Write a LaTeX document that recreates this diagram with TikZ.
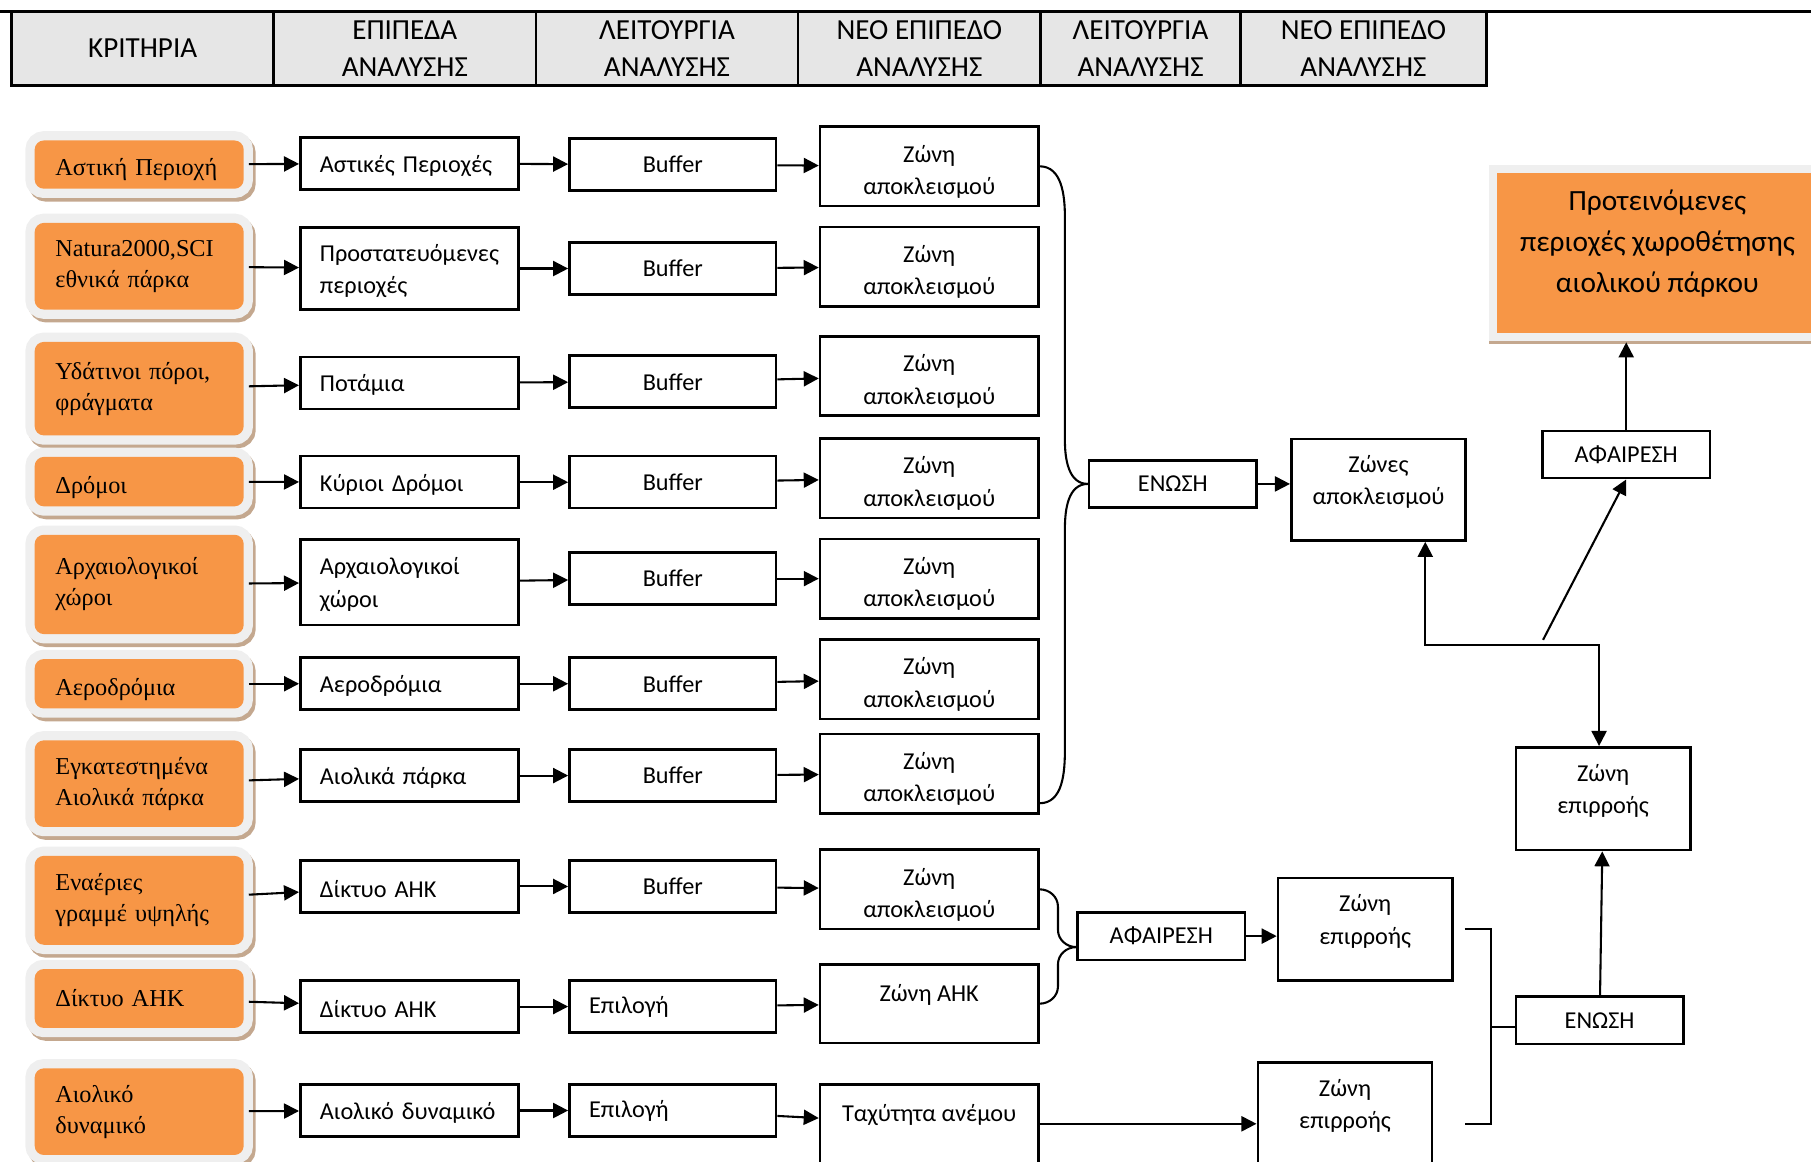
\documentclass[tikz,border=0pt]{standalone}
\usepackage{fontspec}
\setmainfont{Carlito}
\newfontfamily\critfont{Liberation Serif}
\usetikzlibrary{arrows.meta}
\definecolor{critorange}{HTML}{F79646}
\definecolor{glowgray}{HTML}{EFEFEF}
\definecolor{shadebrown}{HTML}{C4A88F}
\definecolor{hdrgray}{HTML}{E6E6E6}

\begin{document}
\begin{tikzpicture}[x=0.5pt,y=-0.5pt,
    >={Triangle[length=6.5pt,width=6.5pt]},
    sink/.style = {execute at begin node={\rule{0pt}{#1}}},
    lift/.style = {execute at end node={\rule[-#1]{0pt}{0pt}}},
    hdr/.style = {draw, line width=1.1pt, fill=hdrgray, minimum height=32pt, align=center, inner sep=0pt, font=\fontsize{12.6}{16}\selectfont},
    crit/.style = {fill=critorange, rounded corners=4pt, minimum width=90.5pt, text width=72.5pt, inner xsep=9pt, align=left, font=\critfont\fontsize{10.5}{13.5}\selectfont,
        preaction={draw=shadebrown, line width=8pt, transform canvas={xshift=1.2pt,yshift=-1.6pt}},
        preaction={draw=glowgray, line width=8pt}},
    lvl/.style = {draw, line width=1.1pt, minimum width=94.5pt, text width=77.5pt, inner xsep=8.5pt, align=left, minimum height=22.5pt, font=\fontsize{10.5}{14}\selectfont, sink=9.5pt},
    func/.style = {draw, line width=1.1pt, minimum width=89.5pt, minimum height=22.5pt, font=\fontsize{10.5}{14}\selectfont},
    funcl/.style = {func, text width=72.5pt, inner xsep=8.5pt, align=left},
    zone/.style = {draw, line width=1.1pt, minimum width=94.5pt, minimum height=34pt, align=center, font=\fontsize{10.5}{14}\selectfont, sink=26pt},
    oper/.style = {draw, line width=1.1pt, minimum width=72.5pt, minimum height=20.5pt, font=\fontsize{10.5}{14}\selectfont},
    res/.style = {draw, line width=1.1pt, minimum width=75.5pt, minimum height=44.5pt, align=center, font=\fontsize{10.5}{14}\selectfont, lift=8.5pt},
    final/.style = {fill=critorange, minimum width=139pt, minimum height=69pt, align=center, font=\fontsize{12.7}{17.75}\selectfont, lift=10pt,
        preaction={draw=shadebrown, line width=7pt, transform canvas={yshift=-1.5pt}},
        preaction={draw=glowgray, line width=7pt}},
    link/.style = {->, line width=0.9pt},
    feed/.style = {link, shorten <=2pt},
    brace/.style = {line width=0.9pt}]
    \useasboundingbox (0,0) rectangle (1568,1006);

    % header row
    \draw[line width=1.3pt] (0,10) -- (1568,10);
    \node[hdr, minimum width=113.5pt] (h1) at (123.5,42) {ΚΡΙΤΗΡΙΑ};
    \node[hdr, minimum width=113.5pt] (h2) at (350.5,42) {ΕΠΙΠΕΔΑ\\ΑΝΑΛΥΣΗΣ};
    \node[hdr, minimum width=113.5pt] (h3) at (577.5,42) {ΛΕΙΤΟΥΡΓΙΑ\\ΑΝΑΛΥΣΗΣ};
    \node[hdr, minimum width=105pt] (h4) at (796,42) {ΝΕΟ ΕΠΙΠΕΔΟ\\ΑΝΑΛΥΣΗΣ};
    \node[hdr, minimum width=86.5pt] (h5) at (987.5,42) {ΛΕΙΤΟΥΡΓΙΑ\\ΑΝΑΛΥΣΗΣ};
    \node[hdr, minimum width=106.5pt] (h6) at (1180.5,42) {ΝΕΟ ΕΠΙΠΕΔΟ\\ΑΝΑΛΥΣΗΣ};

    % criteria
    \node[crit, minimum height=19.5pt, sink=12pt] (c1) at (120.5,142.5) {Αστική Περιοχή};
    \node[crit, minimum height=37.5pt] (c2) at (120.5,230.5) {Natura2000,SCI\\εθνικά πάρκα};
    \node[crit, minimum height=40.5pt] (c3) at (120.5,336.5) {Υδάτινοι πόροι,\\φράγματα};
    \node[crit, minimum height=19pt, sink=12.5pt] (c4) at (120.5,417) {Δρόμοι};
    \node[crit, minimum height=43pt] (c5) at (120.5,506) {Αρχαιολογικοί\\χώροι};
    \node[crit, minimum height=19pt, sink=12.5pt] (c6) at (120.5,592) {Αεροδρόμια};
    \node[crit, minimum height=37.5pt] (c7) at (120.5,678.5) {Εγκατεστημένα\\Αιολικά πάρκα};
    \node[crit, minimum height=38.5pt] (c8) at (120.5,779.5) {Εναέριες\\γραμμέ υψηλής};
    \node[crit, minimum height=25.5pt] (c9) at (120.5,864.5) {Δίκτυο ΑΗΚ};
    \node[crit, minimum height=37.5pt] (c10) at (120.5,962.5) {Αιολικό\\δυναμικό};

    % levels of analysis
    \node[lvl] (p1) at (354.5,141.5) {Αστικές Περιοχές};
    \node[lvl, minimum height=35.5pt] (p2) at (354.5,232.5) {Προστατευόμενες\\περιοχές};
    \node[lvl] (p3) at (354.5,331.5) {Ποτάμια};
    \node[lvl] (p4) at (354.5,417.5) {Κύριοι Δρόμοι};
    \node[lvl, minimum height=37pt] (p5) at (354.5,504) {Αρχαιολογικοί\\χώροι};
    \node[lvl] (p6) at (354.5,592) {Αεροδρόμια};
    \node[lvl] (p7) at (354.5,671.5) {Αιολικά πάρκα};
    \node[lvl] (p8) at (354.5,767.5) {Δίκτυο ΑΗΚ};
    \node[lvl] (p9) at (354.5,871.5) {Δίκτυο ΑΗΚ};
    \node[lvl] (p10) at (354.5,961.5) {Αιολικό δυναμικό};

    % functions
    \node[func] (b1) at (582.5,142.5) {Buffer};
    \node[func] (b2) at (582.5,232.5) {Buffer};
    \node[func] (b3) at (582.5,330.5) {Buffer};
    \node[func] (b4) at (582.5,417.5) {Buffer};
    \node[func] (b5) at (582.5,501) {Buffer};
    \node[func] (b6) at (582.5,592) {Buffer};
    \node[func] (b7) at (582.5,671.5) {Buffer};
    \node[func] (b8) at (582.5,767.5) {Buffer};
    \node[funcl] (b9) at (582.5,871.5) {Επιλογή};
    \node[funcl] (b10) at (582.5,961.5) {Επιλογή};

    % new levels
    \node[zone] (z1) at (804.5,144) {Ζώνη\\αποκλεισμού};
    \node[zone] (z2) at (804.5,231) {Ζώνη\\αποκλεισμού};
    \node[zone] (z3) at (804.5,325.5) {Ζώνη\\αποκλεισμού};
    \node[zone] (z4) at (804.5,414) {Ζώνη\\αποκλεισμού};
    \node[zone] (z5) at (804.5,501) {Ζώνη\\αποκλεισμού};
    \node[zone] (z6) at (804.5,588) {Ζώνη\\αποκλεισμού};
    \node[zone] (z7) at (804.5,670) {Ζώνη\\αποκλεισμού};
    \node[zone] (z8) at (804.5,770) {Ζώνη\\αποκλεισμού};
    \node[zone] (z9) at (804.5,869) {Ζώνη ΑΗΚ\\\mbox{}};
    \node[zone] (z10) at (804.5,973) {Ταχύτητα ανέμου\\\mbox{}};

    % operations and results
    \node[oper] (u1) at (1015.5,419) {ΕΝΩΣΗ};
    \node[res, minimum height=44pt] (za) at (1193.5,424) {Ζώνες\\αποκλεισμού};
    \node[oper] (a1) at (1005.5,810.5) {ΑΦΑΙΡΕΣΗ};
    \node[res] (zep1) at (1182,804.5) {Ζώνη\\επιρροής};
    \node[res] (zep2) at (1164.5,964.5) {Ζώνη\\επιρροής};
    \node[oper] (u2) at (1385,883.5) {ΕΝΩΣΗ};
    \node[res] (zep3) at (1388,691.5) {Ζώνη\\επιρροής};
    \node[oper] (a2) at (1408,393.5) {ΑΦΑΙΡΕΣΗ};
    \node[final] (fin) at (1435,219) {Προτεινόμενες\\περιοχές χωροθέτησης\\αιολικού πάρκου};

    \draw[feed] (c1) -- (p1);
    \draw[feed] (c2) -- (p2);
    \draw[feed] (c3) -- (p3);
    \draw[feed] (c4) -- (p4);
    \draw[feed] (c5) -- (p5);
    \draw[feed] (c6) -- (p6);
    \draw[feed] (c7) -- (p7);
    \draw[feed] (c8) -- (p8);
    \draw[feed] (c9) -- (p9);
    \draw[feed] (c10) -- (p10);
    \draw[link] (p1) -- (b1);
    \draw[link] (p2) -- (b2);
    \draw[link] (p3) -- (b3);
    \draw[link] (p4) -- (b4);
    \draw[link] (p5) -- (b5);
    \draw[link] (p6) -- (b6);
    \draw[link] (p7) -- (b7);
    \draw[link] (p8) -- (b8);
    \draw[link] (p9) -- (b9);
    \draw[link] (p10) -- (b10);
    \draw[link] (b1) -- (z1);
    \draw[link] (b2) -- (z2);
    \draw[link] (b3) -- (z3);
    \draw[link] (b4) -- (z4);
    \draw[link] (b5) -- (z5);
    \draw[link] (b6) -- (z6);
    \draw[link] (b7) -- (z7);
    \draw[link] (b8) -- (z8);
    \draw[link] (b9) -- (z9);
    \draw[link] (b10) -- (z10);

    % braces
    \coordinate (z7end) at ([yshift=5pt]z7.south east);
    \draw[brace] (z1.east) to[out=0,in=90] (922,188) -- (922,381) to[out=-90,in=180] (u1.west);
    \draw[brace] (z7end) to[out=0,in=-90] (922,649) -- (922,458) to[out=90,in=180] (u1.west);
    \coordinate (tip2) at ([yshift=-4.75pt]a1.west);
    \draw[brace] (z8.east) to[out=0,in=90] (916,785) -- (916,805) to[out=-90,in=180] (tip2);
    \draw[brace] (z9.east) to[out=0,in=-90] (916,854) -- (916,835) to[out=90,in=180] (tip2);

    \draw[link] (u1.east) -- (u1.east -| za.west);
    \draw[link] (a1.east) -- (a1.east -| zep1.west);
    \draw[link] (z10.east) -- (z10.east -| zep2.west);

    % bracket
    \coordinate (k1) at (1268,804);
    \coordinate (k2) at (1268,973);
    \coordinate (k3) at (1291,889);
    \draw[brace] (k1) -- (1291,804) -- (1291,973) -- (k2);
    \draw[brace] (k3) -- (k3 -| u2.west);
    \draw[link] (u2) -- (zep3);

    \draw[<->, line width=0.9pt] ([xshift=20.25pt]za.south) -- ++(0,89.6) -| ([xshift=-1.75pt]zep3.north);
    \coordinate (dg) at (1336,554);
    \draw[link] (dg) -- (a2.south);
    \draw[link, shorten >=4pt] (a2.north) -- (a2.north |- fin.south);
\end{tikzpicture}
\end{document}
